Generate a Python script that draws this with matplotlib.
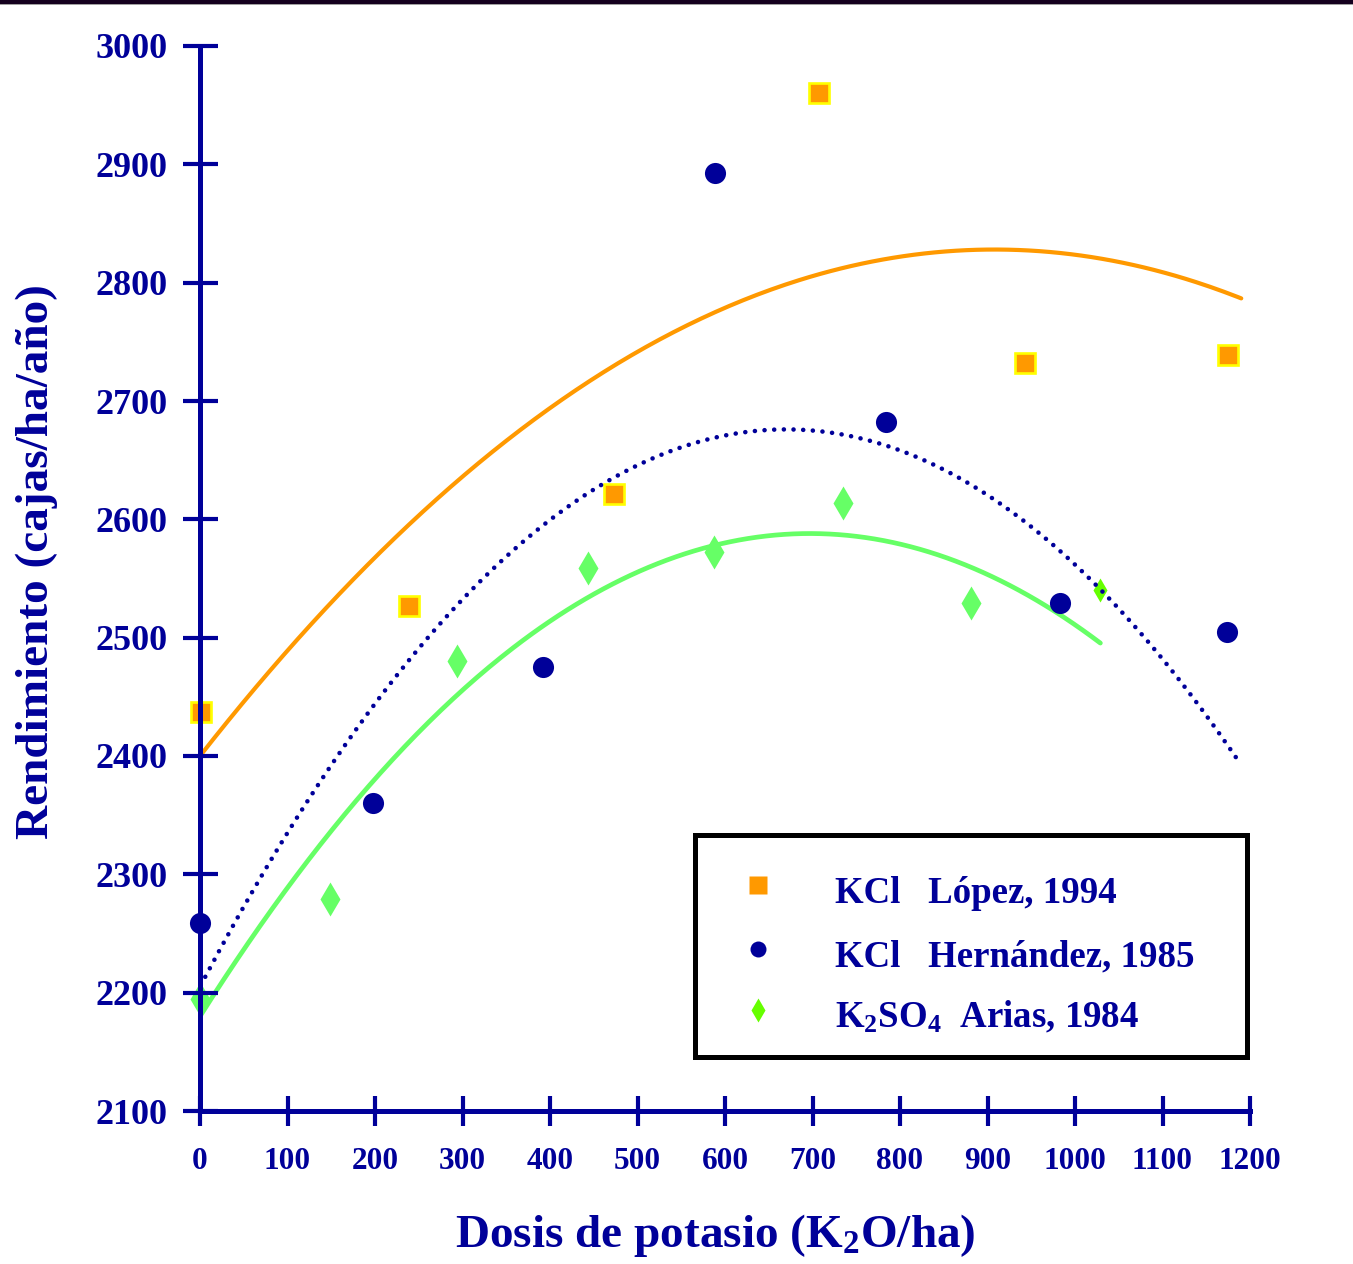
import numpy as np
import matplotlib
matplotlib.use("Agg")
import matplotlib.pyplot as plt
from matplotlib.patches import Rectangle

# ---------------- data ----------------
lopez_x = [1, 239, 473, 707, 943, 1175]
lopez_y = [2437, 2527, 2621, 2960, 2732, 2739]

hern_x = [0, 198, 392, 589, 784, 983, 1174]
hern_y = [2259, 2360, 2475, 2893, 2682, 2529, 2505]

arias_x = [0, 149, 294, 443, 587, 735, 881, 1029]
arias_y = [2195, 2279, 2480, 2559, 2572, 2614, 2529, 2540]

# quadratic trend lines: x range, vertex (x, y) and value at x = 0
lopez_trend_range = [0, 1190]
lopez_trend_vertex = [908, 2828]
lopez_trend_y0 = 2400

hern_trend_range = [6, 1185]
hern_trend_vertex = [670, 2676]
hern_trend_y0 = 2205

arias_trend_range = [0, 1029]
arias_trend_vertex = [697, 2588]
arias_trend_y0 = 2180

x_ticks = [0, 100, 200, 300, 400, 500, 600, 700, 800, 900, 1000, 1100, 1200]
y_ticks = [2100, 2200, 2300, 2400, 2500, 2600, 2700, 2800, 2900, 3000]

legend_labels = ["KCl   López, 1994", "KCl   Hernández, 1985",
                 "K$_2$SO$_4$  Arias, 1984"]

# ---------------- style ----------------
NAVY = "#000099"
ORANGE = "#FF9900"
GREEN = "#66FF66"
LGREEN = "#66FF00"

plt.rcParams["font.family"] = ["Liberation Serif", "DejaVu Serif"]
plt.rcParams["font.weight"] = "bold"
plt.rcParams["mathtext.fontset"] = "custom"
plt.rcParams["mathtext.rm"] = "Liberation Serif:bold"
plt.rcParams["mathtext.it"] = "Liberation Serif:bold"
plt.rcParams["mathtext.bf"] = "Liberation Serif:bold"

W, H = 1353, 1264
fig = plt.figure(figsize=(W / 100, H / 100), dpi=100)
ax = fig.add_axes([200 / W, 1 - 1111 / H, 1050 / W, 1065 / H])


def trend(rng, vertex, y0):
    xs = np.linspace(rng[0], rng[1], 300)
    k = (y0 - vertex[1]) / vertex[0] ** 2
    return xs, vertex[1] + k * (xs - vertex[0]) ** 2


# trend lines
xs, ys = trend(arias_trend_range, arias_trend_vertex, arias_trend_y0)
ax.plot(xs, ys, color=GREEN, lw=3.4, zorder=2, solid_capstyle="round")
xs, ys = trend(lopez_trend_range, lopez_trend_vertex, lopez_trend_y0)
ax.plot(xs, ys, color=ORANGE, lw=3.0, zorder=3, solid_capstyle="round")
xs, ys = trend(hern_trend_range, hern_trend_vertex, hern_trend_y0)
ax.plot(xs, ys, color=NAVY, lw=3.3, linestyle=(0, (0.01, 2.1)),
        dash_capstyle="round", zorder=3.2)

# data points
ax.plot(lopez_x, lopez_y, ls="none", marker="s", ms=14.5, mfc=ORANGE,
        mec="#FFFF00", mew=1.9, zorder=2.6, clip_on=False)
ax.plot(arias_x[:-1], arias_y[:-1], ls="none", marker="d", ms=17.3,
        mfc=GREEN, mec="none", zorder=2.6, clip_on=False)
ax.plot(arias_x[-1:], arias_y[-1:], ls="none", marker="d", ms=12.0,
        mfc=LGREEN, mec="none", zorder=2.6, clip_on=False)
ax.plot(hern_x, hern_y, ls="none", marker="o", ms=15.2, mfc=NAVY,
        mec="none", zorder=4, clip_on=False)

# axes
ax.set_xlim(0, 1200)
ax.set_ylim(2100, 3000)
ax.set_xticks(x_ticks)
ax.set_yticks(y_ticks)
ax.set_xticklabels([str(v) for v in x_ticks])
ax.set_yticklabels([str(v) for v in y_ticks])
for s in ("top", "right"):
    ax.spines[s].set_visible(False)
for s in ("left", "bottom"):
    ax.spines[s].set_color(NAVY)
    ax.spines[s].set_linewidth(3.6)
    ax.spines[s].set_zorder(5)
ax.tick_params(axis="y", direction="inout", length=25.2, width=3.0,
               color=NAVY, labelcolor=NAVY, labelsize=26, pad=10.8)
ax.tick_params(axis="x", direction="inout", length=22.3, width=3.0,
               color=NAVY, labelcolor=NAVY, labelsize=22.5, pad=15)
ax.xaxis.set_zorder(5)
ax.yaxis.set_zorder(5)
for lab in ax.get_xticklabels() + ax.get_yticklabels():
    lab.set_fontweight("bold")

# axis titles
fig.text(715 / W, 1 - 1247 / H, "Dosis de potasio (K$_2$O/ha)",
         ha="center", va="baseline", fontsize=34, color=NAVY,
         fontweight="bold")
fig.text(37 / W, 1 - 562 / H, "Rendimiento (cajas/ha/año)",
         ha="center", va="center", rotation=90, fontsize=34, color=NAVY,
         fontweight="bold")

# legend box
def fx(px):
    return (px - 200) / 1050


def fy(py):
    return (1111 - py) / 1065


ax.add_patch(Rectangle((fx(695), fy(1057)), fx(1247) - fx(695),
                       fy(835) - fy(1057), transform=ax.transAxes,
                       facecolor="white", edgecolor="black", lw=3.6,
                       zorder=6, clip_on=False))
leg_marker_y = [885, 949, 1010]
leg_text_y = [903, 966, 1027]
ax.plot([fx(758)], [fy(leg_marker_y[0])], transform=ax.transAxes,
        marker="s", ms=13, mfc=ORANGE, mec="none", ls="none", zorder=7,
        clip_on=False)
ax.plot([fx(758)], [fy(leg_marker_y[1])], transform=ax.transAxes,
        marker="o", ms=11.5, mfc=NAVY, mec="none", ls="none", zorder=7,
        clip_on=False)
ax.plot([fx(758)], [fy(leg_marker_y[2])], transform=ax.transAxes,
        marker="d", ms=12.0, mfc=LGREEN, mec="none", ls="none", zorder=7,
        clip_on=False)
for lab, ty in zip(legend_labels, leg_text_y):
    ax.text(fx(835), fy(ty), lab, transform=ax.transAxes, ha="left",
            va="baseline", fontsize=26.6, color=NAVY, fontweight="bold",
            zorder=7)

# top dark band
fig.add_artist(Rectangle((0, 1 - 4 / H), 1, 4 / H, transform=fig.transFigure,
                         facecolor="#14001e", edgecolor="none"))
fig.add_artist(Rectangle((0, 1 - 5 / H), 1, 1 / H, transform=fig.transFigure,
                         facecolor="#a0a0a0", edgecolor="none"))

fig.savefig("out.png", dpi=100, facecolor="white")
